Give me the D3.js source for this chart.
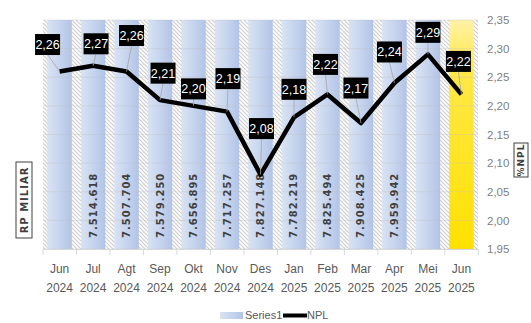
<!DOCTYPE html>
<meta charset="utf-8">
<head>
    <script src="https://d3js.org/d3.v7.min.js"></script>
    <style>
    body { margin: 0; background: #fff; }
    .cat text { font-family: "Liberation Sans Narrow", "Liberation Sans", sans-serif; font-size: 12px; fill: #595959; }
    .npl-axis text { font-family: "Liberation Sans Narrow", "Liberation Sans", sans-serif; font-size: 11.5px; fill: #7f7f7f; }
    .barlabel { font-family: "DejaVu Sans", sans-serif; font-weight: bold; font-size: 10px; fill: #404040; letter-spacing: 1px; }
    .ptlabel { font-family: "Liberation Sans Narrow", "Liberation Sans", sans-serif; font-size: 12.5px; fill: #fff; }
    .title { font-family: "DejaVu Sans", sans-serif; font-weight: bold; fill: #404040; }
    .legend { font-family: "Liberation Sans Narrow", "Liberation Sans", sans-serif; font-size: 11px; fill: #595959; }
    </style>
</head>
<body>
<script>
// categories (month, year)
var months = ["Jun", "Jul", "Agt", "Sep", "Okt", "Nov", "Des", "Jan", "Feb", "Mar", "Apr", "Mei", "Jun"];
var years  = ["2024", "2024", "2024", "2024", "2024", "2024", "2024", "2025", "2025", "2025", "2025", "2025", "2025"];

// Series1 (Rp miliar) - first and last two are not labelled in the picture, estimated
var series1 = [7480000, 7514618, 7507704, 7579250, 7656895, 7717257, 7827148, 7782219, 7825494, 7908425, 7959942, 8010000, 8060000];
var series1Labelled = [false, true, true, true, true, true, true, true, true, true, true, false, false];

// NPL (%)
var npl = [2.26, 2.27, 2.26, 2.21, 2.20, 2.19, 2.08, 2.18, 2.22, 2.17, 2.24, 2.29, 2.22];

// right axis ticks
var nplTicks = [1.95, 2.00, 2.05, 2.10, 2.15, 2.20, 2.25, 2.30, 2.35];

// where the black NPL labels sit relative to their point
var labelOffsets = [[-12, -27], [3, -22], [5, -36], [3, -27], [0, -17], [1, -33], [1, -46],
                    [0, -28], [-2, -30], [-5, -35], [-5, -31], [0, -22], [-3, -33]];

var W = 531, H = 323;
var pLeft = 43, pRight = 478, pTop = 20, pBottom = 249;

var svg = d3.select("body").append("svg")
    .attr("width", W)
    .attr("height", H);

var defs = svg.append("defs");

// hatch for the plot background
var hatch = defs.append("pattern")
    .attr("id", "hatch")
    .attr("patternUnits", "userSpaceOnUse")
    .attr("width", 4).attr("height", 4);
hatch.append("rect").attr("width", 4).attr("height", 4).attr("fill", "#fff");
hatch.append("path")
    .attr("d", "M-1,-1 L5,5 M-1,3 L1,5 M3,-1 L5,1")
    .attr("stroke", "#cfcfcf")
    .attr("stroke-width", 1.2);

// blue bar gradient
var gBlue = defs.append("linearGradient").attr("id", "blue")
    .attr("x1", "0").attr("x2", "1").attr("y1", "0").attr("y2", "0");
gBlue.append("stop").attr("offset", "0").attr("stop-color", "#d9e3f3");
gBlue.append("stop").attr("offset", "0.5").attr("stop-color", "#c6d4ee");
gBlue.append("stop").attr("offset", "1").attr("stop-color", "#b2c4e6");

// yellow bar gradient (last month)
var gYel = defs.append("linearGradient").attr("id", "yellow")
    .attr("x1", "0").attr("x2", "0").attr("y1", "0").attr("y2", "1");
gYel.append("stop").attr("offset", "0").attr("stop-color", "#fff2a8");
gYel.append("stop").attr("offset", "0.2").attr("stop-color", "#ffe94a");
gYel.append("stop").attr("offset", "1").attr("stop-color", "#ffe100");

// scales
var x = d3.scaleBand()
    .domain(d3.range(months.length))
    .range([pLeft, pRight])
    .paddingInner(0.27)
    .paddingOuter(0.13);

// primary axis is hidden, its max sits below the data so every bar fills the plot
var yBar = d3.scaleLinear()
    .domain([0, 7400000])
    .range([pBottom, pTop])
    .clamp(true);

var yNpl = d3.scaleLinear()
    .domain([1.95, 2.35])
    .range([pBottom, pTop]);

// plot background
svg.append("rect")
    .attr("x", pLeft).attr("y", pTop)
    .attr("width", pRight - pLeft).attr("height", pBottom - pTop)
    .attr("fill", "url(#hatch)");

/*** bars ***/
svg.selectAll(".bar")
    .data(series1)
    .enter().append("rect")
    .attr("class", "bar")
    .attr("x", function(d, i) { return x(i); })
    .attr("width", x.bandwidth())
    .attr("y", function(d) { return yBar(d); })
    .attr("height", function(d) { return pBottom - yBar(d); })
    .attr("fill", function(d, i) { return i === series1.length - 1 ? "url(#yellow)" : "url(#blue)"; });

// gridlines
svg.append("g")
    .selectAll("line")
    .data(nplTicks)
    .enter().append("line")
    .attr("x1", pLeft).attr("x2", pRight)
    .attr("y1", function(d) { return yNpl(d); })
    .attr("y2", function(d) { return yNpl(d); })
    .attr("stroke", "#bfbfbf")
    .attr("stroke-opacity", 0.35);

// bottom axis line and ticks
svg.append("line")
    .attr("x1", pLeft).attr("x2", pRight)
    .attr("y1", pBottom + 0.5).attr("y2", pBottom + 0.5)
    .attr("stroke", "#d9d9d9");
svg.append("g")
    .selectAll("line")
    .data(d3.range(months.length + 1))
    .enter().append("line")
    .attr("x1", function(i) { return pLeft + i * x.step(); })
    .attr("x2", function(i) { return pLeft + i * x.step(); })
    .attr("y1", pBottom).attr("y2", pBottom + 6)
    .attr("stroke", "#d9d9d9");

// bar value labels
var fmtRp = d3.formatLocale({ decimal: ",", thousands: ".", grouping: [3], currency: ["", ""] }).format(",d");
svg.append("g")
    .selectAll("text")
    .data(series1.map(function(d, i) { return { v: d, i: i }; })
        .filter(function(d) { return series1Labelled[d.i]; }))
    .enter().append("text")
    .attr("class", "barlabel")
    .attr("transform", function(d) {
        return "translate(" + (x(d.i) + x.bandwidth() / 2 + 3.5) + "," + (pBottom - 11) + ") rotate(-90)";
    })
    .text(function(d) { return fmtRp(d.v); });

/*** category axis ***/
var cat = svg.append("g").attr("class", "cat");
cat.selectAll(".m")
    .data(months)
    .enter().append("text")
    .attr("x", function(d, i) { return x(i) + x.bandwidth() / 2; })
    .attr("y", 273)
    .attr("text-anchor", "middle")
    .text(function(d) { return d; });
cat.selectAll(".yr")
    .data(years)
    .enter().append("text")
    .attr("x", function(d, i) { return x(i) + x.bandwidth() / 2; })
    .attr("y", 292)
    .attr("text-anchor", "middle")
    .text(function(d) { return d; });

/*** right NPL axis ***/
svg.append("g")
    .attr("class", "npl-axis")
    .attr("transform", "translate(" + (pRight + 3) + ",0)")
    .call(d3.axisRight(yNpl).tickValues(nplTicks).tickSize(0).tickPadding(6)
        .tickFormat(function(d) { return d.toFixed(2).replace(".", ","); }))
    .call(function(g) { g.select(".domain").remove(); });

/*** NPL line ***/
var line = d3.line()
    .x(function(d, i) { return x(i) + x.bandwidth() / 2; })
    .y(function(d) { return yNpl(d); });

svg.append("path")
    .datum(npl)
    .attr("d", line)
    .attr("fill", "none")
    .attr("stroke", "#000")
    .attr("stroke-width", 4.5)
    .attr("stroke-linejoin", "round");

// NPL labels with leader lines
var lbl = svg.append("g");
npl.forEach(function(v, i) {
    var px = x(i) + x.bandwidth() / 2, py = yNpl(v);
    var cx = px + labelOffsets[i][0], cy = py + labelOffsets[i][1];
    lbl.append("line")
        .attr("x1", cx).attr("y1", cy + 10)
        .attr("x2", px).attr("y2", py)
        .attr("stroke", "#a6a6a6")
        .attr("stroke-width", 0.8);
    lbl.append("rect")
        .attr("x", cx - 12.5).attr("y", cy - 10.5)
        .attr("width", 25).attr("height", 21)
        .attr("fill", "#000");
    lbl.append("text")
        .attr("class", "ptlabel")
        .attr("x", cx).attr("y", cy + 4.5)
        .attr("text-anchor", "middle")
        .text(v.toFixed(2).replace(".", ","));
});

/*** axis titles ***/
function boxTitle(cx, cy, w, h, size, txt) {
    var g = svg.append("g").attr("transform", "translate(" + cx + "," + cy + ") rotate(-90)");
    g.append("rect")
        .attr("x", -h / 2).attr("y", -w / 2)
        .attr("width", h).attr("height", w)
        .attr("fill", "#fff").attr("stroke", "#404040").attr("stroke-width", 1);
    g.append("text")
        .attr("class", "title")
        .style("font-size", size + "px")
        .style("letter-spacing", "1px")
        .attr("text-anchor", "middle")
        .attr("y", size * 0.36)
        .text(txt);
}
boxTitle(24, 200, 16, 76, 10, "RP MILIAR");
boxTitle(521, 160, 14, 34, 9, "%NPL");

/*** legend ***/
svg.append("rect")
    .attr("x", 220).attr("y", 312)
    .attr("width", 23).attr("height", 7)
    .attr("fill", "url(#blue)");
svg.append("text").attr("class", "legend").attr("x", 245).attr("y", 319).text("Series1");
svg.append("line")
    .attr("x1", 283).attr("x2", 307)
    .attr("y1", 315.5).attr("y2", 315.5)
    .attr("stroke", "#000").attr("stroke-width", 4);
svg.append("text").attr("class", "legend").attr("x", 307).attr("y", 319).text("NPL");
</script>
</body>
</html>
